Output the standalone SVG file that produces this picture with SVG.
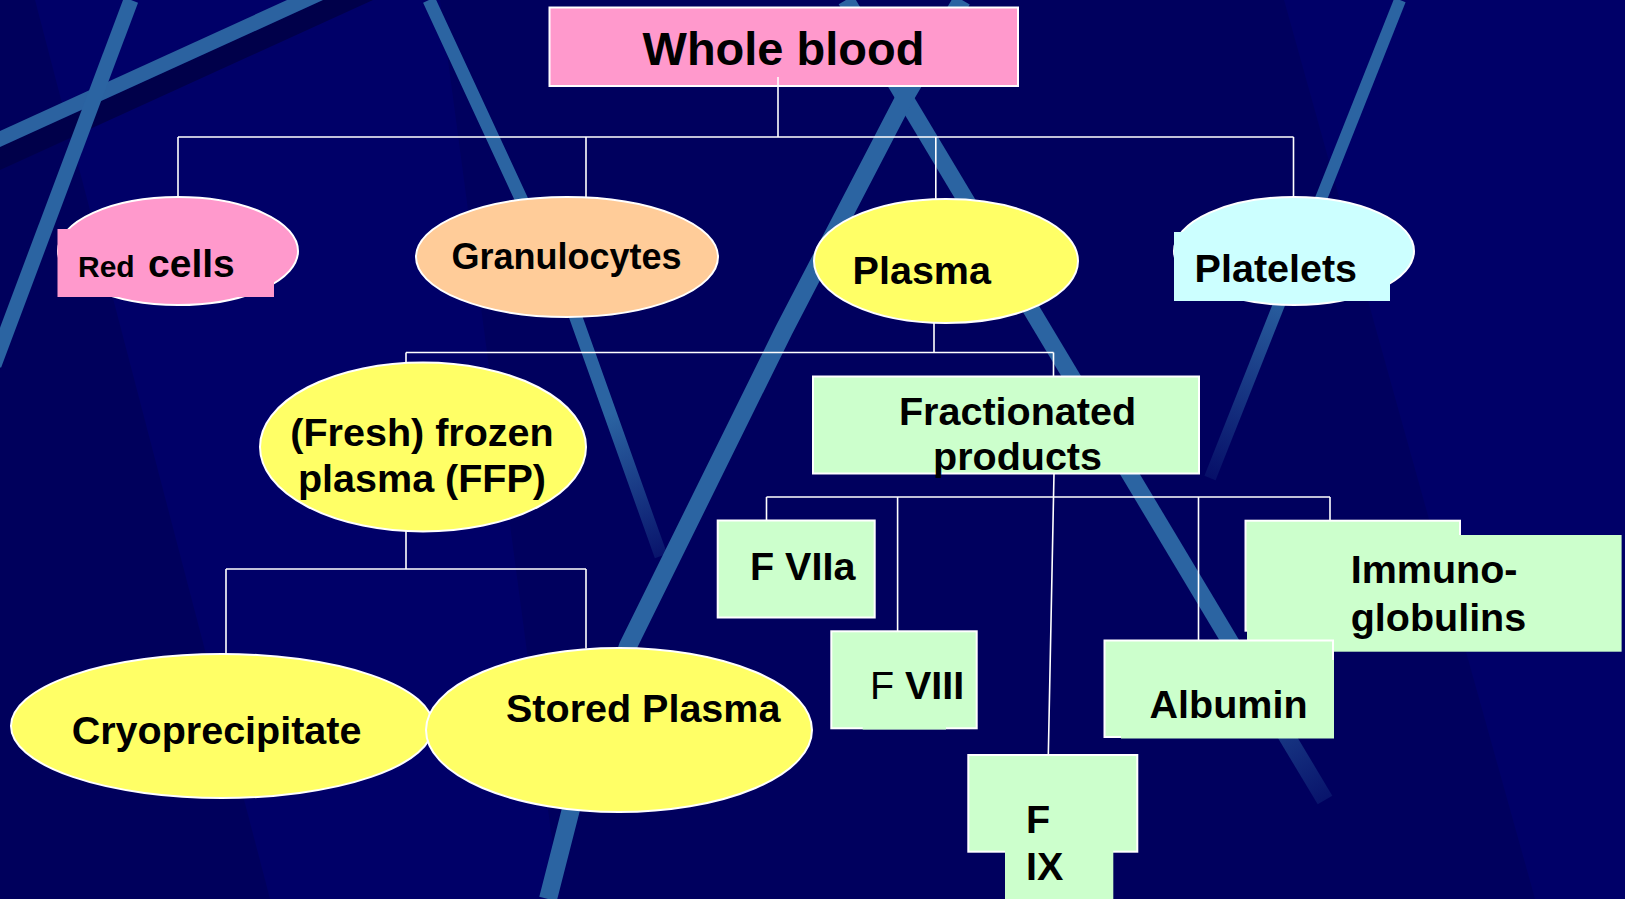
<svg xmlns="http://www.w3.org/2000/svg" width="1625" height="899" viewBox="0 0 1625 899">
<style>
.t{font-family:"Liberation Sans",Arial,Helvetica,sans-serif;font-weight:bold;fill:#000;font-size:39.5px}
.n{stroke:#fff;stroke-width:2}
.c{stroke:#fff;stroke-width:1.6;fill:none}
.s{fill:none;stroke-linecap:butt;stroke-linejoin:round}
</style>
<defs>
<linearGradient id="g3" gradientUnits="userSpaceOnUse" x1="429" y1="0" x2="661" y2="556"><stop offset="0" stop-color="#2b64a2"/><stop offset="0.75" stop-color="#2b64a2"/><stop offset="1" stop-color="#2b64a2" stop-opacity="0.2"/></linearGradient>
<linearGradient id="g4" gradientUnits="userSpaceOnUse" x1="846" y1="0" x2="1325" y2="800"><stop offset="0" stop-color="#2b64a2"/><stop offset="0.8" stop-color="#2b64a2"/><stop offset="1" stop-color="#2b64a2" stop-opacity="0.2"/></linearGradient>
<linearGradient id="g6" gradientUnits="userSpaceOnUse" x1="1400" y1="0" x2="1210" y2="478"><stop offset="0" stop-color="#2b64a2"/><stop offset="0.6" stop-color="#2b64a2"/><stop offset="1" stop-color="#2b64a2" stop-opacity="0.15"/></linearGradient>
</defs>
<g id="background">
<rect width="1625" height="899" fill="#000068"/>
<polygon points="0,0 35,0 270,899 0,899" fill="#00005c"/>
<polygon points="440,0 1284,0 1535,899 560,899" fill="#00005e"/>
<polygon points="0,147 323,0 373,0 0,170" fill="#00004a"/>
<polygon points="0,131 287,0 323,0 0,147" fill="#2b62a0"/>
<line class="s" x1="131" y1="0" x2="-6" y2="365" stroke="#2b64a2" stroke-width="15"/>
<polyline class="s" points="429,0 575,315 661,556" stroke="url(#g3)" stroke-width="13"/>
<line class="s" x1="846" y1="0" x2="1325" y2="800" stroke="url(#g4)" stroke-width="17"/>
<polyline class="s" points="962,0 905,97 784,330 628,646 571,809 548,899" stroke="#2b64a2" stroke-width="18"/>
<line class="s" x1="1400" y1="0" x2="1210" y2="478" stroke="url(#g6)" stroke-width="12"/>
</g>
<g id="whole-blood">
<rect class="n" x="549.5" y="7.5" width="468.5" height="78.5" fill="#ff99cc"/>
<text class="t" x="783.5" y="65" style="font-size:47px" text-anchor="middle">Whole blood</text>
</g>
<g id="red-cells">
<ellipse class="n" cx="178" cy="251" rx="120" ry="54" fill="#ff99cc"/>
<rect x="57.5" y="229" width="216.5" height="68" fill="#ff99cc"/>
<text class="t" y="277"><tspan x="78" style="font-size:30px">Red</tspan><tspan x="148" style="font-size:39px">cells</tspan></text>
</g>
<g id="granulocytes">
<ellipse class="n" cx="567" cy="257" rx="151" ry="60" fill="#ffcc99"/>
<text class="t" x="566.5" y="269" style="font-size:36px" text-anchor="middle">Granulocytes</text>
</g>
<g id="plasma">
<ellipse class="n" cx="946" cy="261" rx="132" ry="62" fill="#ffff66"/>
<text class="t" x="852.6" y="284">Plasma</text>
</g>
<g id="platelets">
<ellipse class="n" cx="1294" cy="251" rx="120" ry="54" fill="#ccffff"/>
<rect x="1174" y="232" width="216" height="69" fill="#ccffff"/>
<text class="t" x="1194.6" y="282">Platelets</text>
</g>
<g id="ffp">
<ellipse class="n" cx="423" cy="447" rx="163" ry="84.5" fill="#ffff66"/>
<text class="t" text-anchor="middle"><tspan x="422" y="446">(Fresh) frozen</tspan><tspan x="422" y="491.5">plasma (FFP)</tspan></text>
</g>
<g id="cryoprecipitate">
<ellipse class="n" cx="222" cy="726" rx="211" ry="72" fill="#ffff66"/>
<text class="t" x="71.7" y="743.6">Cryoprecipitate</text>
</g>
<g id="stored-plasma">
<ellipse class="n" cx="619" cy="730" rx="193" ry="82" fill="#ffff66"/>
<text class="t" x="506" y="722">Stored Plasma</text>
</g>
<g id="fractionated">
<rect class="n" x="813" y="376.5" width="386" height="97" fill="#ccffcc"/>
<text class="t" text-anchor="middle"><tspan x="1017.5" y="425">Fractionated</tspan><tspan x="1017.5" y="469.7">products</tspan></text>
</g>
<g id="f-viia">
<rect class="n" x="717.7" y="520.5" width="157" height="97" fill="#ccffcc"/>
<text class="t" x="750" y="580">F VIIa</text>
</g>
<g id="f-viii">
<rect class="n" x="831.3" y="631.3" width="145.4" height="97" fill="#ccffcc"/>
<rect x="862.7" y="700" width="83.3" height="29.5" fill="#ccffcc"/>
<text class="t" y="699"><tspan x="870" style="font-weight:normal">F</tspan><tspan x="905">VIII</tspan></text>
</g>
<g id="f-ix">
<rect class="n" x="968.3" y="755" width="169" height="96.7" fill="#ccffcc"/>
<rect x="1005" y="800" width="108.3" height="100" fill="#ccffcc"/>
<text class="t"><tspan x="1026" y="832.7">F</tspan><tspan x="1026" y="880">IX</tspan></text>
</g>
<g id="immunoglobulins">
<rect class="n" x="1245.5" y="520.7" width="214.5" height="110" fill="#ccffcc"/>
<rect x="1247" y="535" width="374.6" height="116.7" fill="#ccffcc"/>
<text class="t"><tspan x="1350.7" y="583">Immuno-</tspan><tspan x="1350.7" y="631">globulins</tspan></text>
</g>
<g id="albumin">
<rect class="n" x="1104.5" y="640.5" width="228.5" height="96.5" fill="#ccffcc"/>
<rect x="1121" y="660" width="213" height="78.5" fill="#ccffcc"/>
<text class="t" x="1149.6" y="718">Albumin</text>
</g>
<g id="connectors">
<path class="c" d="M778 77V137M178 137H1293.5M178 137V197M586 137V197M935.8 137V199M1293.5 137V197"/>
<path class="c" d="M934 323V352.5M406 352.5H1053.5M406 352.5V363M1053.5 352.5V376.5"/>
<path class="c" d="M406 531V569M226 569H586M226 569V654M586 569V648.5"/>
<path class="c" d="M1054 473.5L1048.3 755M766.5 497H1330M766.5 497V520.5M897.6 497V631.3M1198.5 497V640.5M1330 497V520.7"/>
</g>
</svg>
